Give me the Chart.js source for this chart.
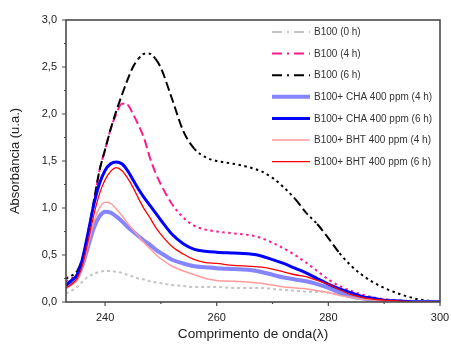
<!DOCTYPE html>
<html>
<head>
<meta charset="utf-8">
<script src="https://cdn.jsdelivr.net/npm/chart.js@4.4.1/dist/chart.umd.min.js"></script>
<style>
  html, body { margin: 0; padding: 0; background: #fff; }
  #wrap { width: 451px; height: 345px; }
</style>
</head>
<body>
<div id="wrap"><canvas id="uvChart" width="451" height="345"></canvas></div>
<script>
// wavelength grid (nm)
const wavelengths = [233, 234, 235, 236, 237, 238, 239, 240, 241, 242, 243, 244, 245, 246, 247, 248, 249, 250,
  252, 254, 256, 258, 260, 263, 266, 268, 270, 272, 274, 276, 278, 280, 282, 284, 286, 288, 290, 293, 296, 300];

// absorbance
const b100_0h = [0.09, 0.12, 0.16, 0.22, 0.27, 0.30, 0.32, 0.33, 0.33, 0.32, 0.31, 0.29, 0.27, 0.25, 0.24, 0.22, 0.21, 0.20,
  0.18, 0.17, 0.16, 0.16, 0.16, 0.15, 0.15, 0.15, 0.14, 0.13, 0.12, 0.11, 0.11, 0.10, 0.08, 0.07, 0.05, 0.04, 0.03, 0.02, 0.01, 0.0];
const b100_4h = [0.22, 0.25, 0.30, 0.45, 0.72, 1.05, 1.40, 1.62, 1.84, 2.00, 2.11, 2.10, 2.00, 1.88, 1.74, 1.54, 1.38, 1.25,
  1.04, 0.90, 0.81, 0.77, 0.75, 0.73, 0.71, 0.68, 0.63, 0.57, 0.50, 0.42, 0.33, 0.24, 0.17, 0.12, 0.08, 0.05, 0.03, 0.01, 0.0, 0.0];
const b100_6h = [0.25, 0.28, 0.33, 0.48, 0.75, 1.08, 1.40, 1.62, 1.84, 2.03, 2.20, 2.36, 2.50, 2.59, 2.64, 2.64, 2.59, 2.49,
  2.16, 1.82, 1.63, 1.54, 1.50, 1.47, 1.43, 1.39, 1.32, 1.22, 1.10, 0.95, 0.83, 0.68, 0.52, 0.39, 0.29, 0.21, 0.15, 0.08, 0.03, 0.0];
const cha_4h = [0.17, 0.21, 0.26, 0.40, 0.60, 0.79, 0.91, 0.96, 0.95, 0.91, 0.86, 0.80, 0.75, 0.70, 0.65, 0.61, 0.56, 0.52,
  0.45, 0.41, 0.38, 0.37, 0.36, 0.35, 0.34, 0.32, 0.29, 0.26, 0.24, 0.22, 0.19, 0.15, 0.10, 0.06, 0.04, 0.02, 0.01, 0.0, 0.0, 0.0];
const cha_6h = [0.18, 0.23, 0.29, 0.47, 0.75, 1.04, 1.26, 1.40, 1.47, 1.49, 1.47, 1.40, 1.30, 1.20, 1.11, 1.03, 0.95, 0.87,
  0.72, 0.62, 0.56, 0.54, 0.53, 0.52, 0.51, 0.49, 0.45, 0.41, 0.36, 0.31, 0.25, 0.19, 0.14, 0.10, 0.06, 0.04, 0.02, 0.01, 0.0, 0.0];
const bht_4h = [0.14, 0.18, 0.23, 0.38, 0.62, 0.85, 1.00, 1.06, 1.05, 0.99, 0.92, 0.84, 0.77, 0.70, 0.63, 0.57, 0.51, 0.46,
  0.38, 0.33, 0.29, 0.25, 0.23, 0.22, 0.21, 0.20, 0.18, 0.16, 0.15, 0.14, 0.12, 0.10, 0.07, 0.05, 0.03, 0.02, 0.01, 0.0, 0.0, 0.0];
const bht_6h = [0.15, 0.19, 0.25, 0.40, 0.66, 0.93, 1.15, 1.30, 1.39, 1.43, 1.40, 1.32, 1.22, 1.10, 0.99, 0.90, 0.80, 0.72,
  0.59, 0.51, 0.45, 0.42, 0.41, 0.39, 0.38, 0.37, 0.35, 0.32, 0.29, 0.27, 0.23, 0.19, 0.13, 0.08, 0.05, 0.03, 0.02, 0.01, 0.0, 0.0];

const seriesLabels = ['B100 (0 h)', 'B100 (4 h)', 'B100 (6 h)', 'B100+ CHA 400 ppm (4 h)',
  'B100+ CHA 400 ppm (6 h)', 'B100+ BHT 400 ppm (4 h)', 'B100+ BHT 400 ppm (6 h)'];
const seriesValues = [b100_0h, b100_4h, b100_6h, cha_4h, cha_6h, bht_4h, bht_6h];

const xTicks = [240, 260, 280, 300];
const xMinorTicks = [250, 270, 290];
const yTicks = [0, 0.5, 1.0, 1.5, 2.0, 2.5, 3.0];

// styles
const colors = ['#c4c4c4', '#ff1a8c', '#000000', '#8585ff', '#0000ff', '#ff9c9c', '#ff0000'];
const widths = [2, 2, 2, 4, 3, 1.5, 1.3];
const dashed = [true, true, true, false, false, false, false];
const legendDash = [10, 5, 2, 5];

const FONT = '"Liberation Sans", Arial, sans-serif';

// Origin style: long dashes where the curve is steep, dots where it is flat
const segDash = (i) => (ctx) => {
  if (!dashed[i]) return undefined;
  if (i === 0) return [3, 3];
  const dx = Math.abs(ctx.p1.x - ctx.p0.x) || 1;
  const dy = Math.abs(ctx.p1.y - ctx.p0.y);
  return dy / dx > 1.2 ? [9, 4] : [2.5, 3.5];
};

const datasets = seriesValues.map((vals, i) => ({
  label: seriesLabels[i],
  data: wavelengths.map((w, k) => ({ x: w, y: vals[k] })),
  borderColor: colors[i],
  borderWidth: widths[i],
  pointRadius: 0,
  fill: false,
  cubicInterpolationMode: 'monotone',
  order: seriesValues.length - i,
  segment: { borderDash: segDash(i) }
}));

// frame, outward ticks and legend
const decorPlugin = {
  id: 'decor',
  afterDraw(chart) {
    const { ctx, chartArea: a, scales } = chart;
    ctx.save();
    ctx.strokeStyle = '#4a4a4a';
    ctx.lineWidth = 1.6;
    ctx.setLineDash([]);
    ctx.strokeRect(a.left, a.top, a.right - a.left, a.bottom - a.top);

    ctx.lineWidth = 1.2;
    ctx.beginPath();
    xTicks.concat(xMinorTicks).forEach(v => {
      const px = scales.x.getPixelForValue(v);
      const len = xTicks.includes(v) ? 4 : 2;
      ctx.moveTo(px, a.bottom);
      ctx.lineTo(px, a.bottom + len);
    });
    for (let v = 0; v <= 3.001; v += 0.25) {
      const py = scales.y.getPixelForValue(v);
      const major = Math.abs(v * 2 - Math.round(v * 2)) < 1e-6;
      ctx.moveTo(a.left, py);
      ctx.lineTo(a.left - (major ? 4 : 2), py);
    }
    ctx.stroke();

    // legend
    const x0 = 272, x1 = 310, tx = 314, y0 = 32, step = 21.6;
    ctx.font = '10px ' + FONT;
    ctx.textBaseline = 'middle';
    ctx.fillStyle = '#333';
    chart.data.datasets.forEach((ds, i) => {
      const y = y0 + i * step;
      ctx.strokeStyle = colors[i];
      ctx.lineWidth = widths[i];
      ctx.setLineDash(dashed[i] ? legendDash : []);
      ctx.beginPath();
      ctx.moveTo(x0, y);
      ctx.lineTo(x1, y);
      ctx.stroke();
      ctx.setLineDash([]);
      ctx.fillText(ds.label, tx, y + 0.5);
    });
    ctx.restore();
  }
};

const chart = new Chart(document.getElementById('uvChart'), {
  type: 'line',
  data: { datasets },
  plugins: [decorPlugin],
  options: {
    responsive: false,
    animation: false,
    layout: { padding: { top: 20, right: 11, left: 0, bottom: 0 } },
    plugins: { legend: { display: false }, tooltip: { enabled: false } },
    scales: {
      x: {
        type: 'linear',
        min: 233,
        max: 300,
        afterBuildTicks: (s) => { s.ticks = xTicks.map(v => ({ value: v })); },
        afterFit: (s) => { s.height = 43; s.paddingLeft = 0; s.paddingRight = 0; },
        grid: { display: false, drawTicks: false },
        border: { display: false },
        ticks: { color: '#222', font: { family: FONT, size: 11 }, padding: 9, maxRotation: 0 },
        title: {
          display: true, text: 'Comprimento de onda(λ)', color: '#222',
          font: { family: FONT, size: 13.6 }, padding: { top: 0, bottom: 3 }
        }
      },
      y: {
        min: 0,
        max: 3,
        afterBuildTicks: (s) => { s.ticks = yTicks.map(v => ({ value: v })); },
        afterFit: (s) => { s.width = 66; s.paddingTop = 0; s.paddingBottom = 0; },
        grid: { display: false, drawTicks: false },
        border: { display: false },
        ticks: {
          color: '#222', font: { family: FONT, size: 11 }, padding: 9,
          callback: (v) => Number(v).toFixed(1).replace('.', ',')
        },
        title: {
          display: true, text: 'Absorbância (u.a.)', color: '#222',
          font: { family: FONT, size: 13 }, padding: { top: 8, bottom: 0 }
        }
      }
    }
  }
});
</script>
</body>
</html>
